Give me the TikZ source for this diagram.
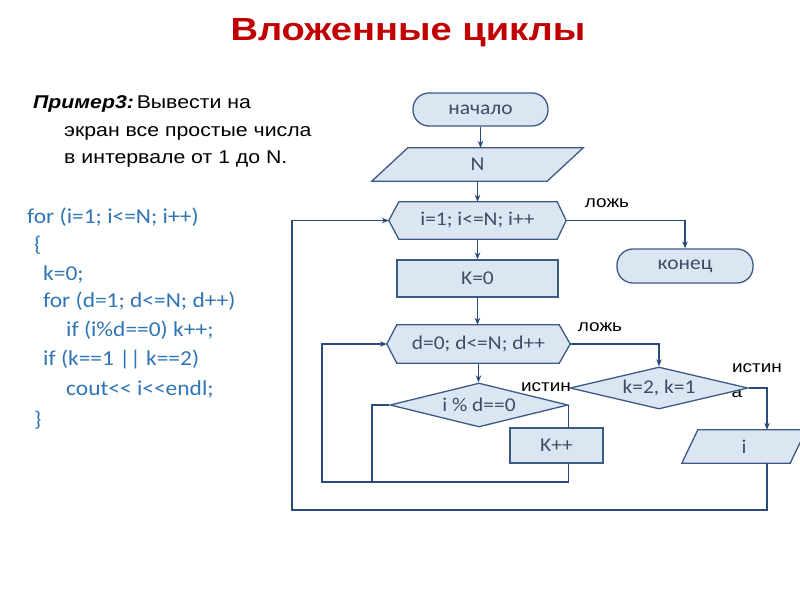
\documentclass[tikz,border=0pt]{standalone}
\usepackage{fontspec}
\setmainfont{Liberation Sans}
\newfontfamily\titlefont[FakeStretch=1.19]{Liberation Sans}
\newfontfamily\armfont[FakeStretch=1.15]{Liberation Sans}
\newfontfamily\codefont[FakeStretch=1.1]{Carlito}
\newfontfamily\shpfont[FakeStretch=1.1]{Carlito}
\usetikzlibrary{arrows.meta,calc,shapes.geometric,backgrounds}
\definecolor{titlered}{HTML}{C00000}
\definecolor{codeblue}{HTML}{2F75B5}
\definecolor{shpfill}{HTML}{DCE6F2}
\definecolor{shpdraw}{HTML}{3B5A85}
\definecolor{linecol}{HTML}{2A4A7A}
\definecolor{shptext}{HTML}{3E4C66}
\tikzset{
  titletext/.style={text=titlered,font=\titlefont\bfseries\fontsize{32}{38}\selectfont,inner sep=0},
  armtext/.style={text=black,font=\armfont\fontsize{18.5}{22}\selectfont,inner sep=0,anchor=base west},
  codetext/.style={text=codeblue,font=\codefont\fontsize{21.3}{25}\selectfont,inner sep=0,anchor=west},
  lbl/.style={text=black,font=\armfont\fontsize{16.5}{20}\selectfont,inner sep=0},
  txt/.style={text=shptext,font=\shpfont\fontsize{19.5}{23}\selectfont,inner sep=0},
  shp/.style={draw=shpdraw,fill=shpfill,line width=1.3pt},
  boxnode/.style={txt,shp,rectangle},
  termnode/.style={txt,shp,rectangle,rounded corners=16pt},
  diamnode/.style={txt,shp,diamond,aspect=4.5},
  ln/.style={draw=linecol,line width=1.2pt},
  arr/.style={ln,-{Stealth[length=7pt,width=5.5pt]}},
}
\begin{document}
\begin{tikzpicture}[x=1pt,y=-1pt]
\useasboundingbox (0,0) rectangle (800,600);
\clip (0,0) rectangle (800,600);
% title
\node[titletext] (title) at (408,33) {Вложенные циклы};
% task text
\node[armtext] (t1) at (33,108) {{\bfseries\itshape Пример3:}\hspace{0.15em}Вывести на};
\node[armtext] (t2) at (64,136) {экран все простые числа};
\node[armtext] (t3) at (64,163) {в интервале от 1 до N.};
% code
\node[codetext] (c1) at (27,217) {for (i=1; i<=N; i++)};
\node[codetext] (c2) at (34,245) {\{};
\node[codetext] (c3) at (43,274) {k=0;};
\node[codetext] (c4) at (43,301) {for (d=1; d<=N; d++)};
\node[codetext] (c5) at (66,330) {if (i\%d==0) k++;};
\node[codetext] (c6) at (43,359) {if (k==1 || k==2)};
\node[codetext] (c7) at (66,389) {cout<{}< i<{}<endl;};
\node[codetext] (c8) at (34,420) {\}};
% flowchart nodes
\node[termnode,minimum width=135,minimum height=33] (start) at (480.5,109.5) {начало};
\node[txt,minimum width=175,minimum height=33] (N) at (477.5,164.5) {N};
\node[txt,minimum width=177,minimum height=37] (h1) at (477.5,220.5) {i=1; i<=N; i++};
\node[termnode,minimum width=136,minimum height=34] (konec) at (685,266) {конец};
\node[boxnode,minimum width=161,minimum height=37] (K0) at (477.5,278.5) {K=0};
\node[txt,minimum width=183,minimum height=38] (h2) at (478.5,344) {d=0; d<=N; d++};
\node[diamnode,minimum width=178,minimum height=44] (dd) at (479,405) {i \% d==0};
\node[boxnode,minimum width=93,minimum height=35] (Kpp) at (556.5,445.5) {K++};
\node[lbl] (la) at (737,393) {а};
\node[diamnode,minimum width=178,minimum height=42] (kd) at (659,388) {k=2, k=1};
\node[txt,minimum width=108,minimum height=33] (io) at (744,446.5) {i};
\begin{pgfonlayer}{background}
\path[shp] ([xshift=18]N.north west) -- ([xshift=18]N.north east) -- ([xshift=-18]N.south east) -- ([xshift=-18]N.south west) -- cycle;
\path[shp] (h1.west) -- ([xshift=10]h1.north west) -- ([xshift=-9]h1.north east) -- (h1.east) -- ([xshift=-9]h1.south east) -- ([xshift=10]h1.south west) -- cycle;
\path[shp] (h2.west) -- ([xshift=10]h2.north west) -- ([xshift=-11]h2.north east) -- (h2.east) -- ([xshift=-11]h2.south east) -- ([xshift=10]h2.south west) -- cycle;
\path[shp] ([xshift=8]io.north west) -- ([xshift=8]io.north east) -- ([xshift=-8]io.south east) -- ([xshift=-8]io.south west) -- cycle;
\end{pgfonlayer}
% labels
\node[lbl] (l1) at (607,203) {ложь};
\node[lbl] (l2) at (600,327) {ложь};
\node[lbl] (l3) at (546,387) {истин};
\node[lbl] (l4) at (757,368) {истин};
% helper coordinates
\coordinate (ix) at (767,446);
\coordinate (ob) at (292,510);
\coordinate (ib) at (322,482);
\coordinate (dl) at (372,482);
% connectors
\draw[arr] (start.south) -- (start.south |- N.north);
\draw[arr] (N.south) -- (N.south |- h1.north);
\draw[arr] (h1.east) -| (konec.north);
\draw[arr] (h1.south) -- (K0.north);
\draw[arr] (K0.south) -- (K0.south |- h2.north);
\draw[arr] (h2.east) -| (kd.north);
\draw[arr] (h2.south) -- (h2.south |- dd.north);
\draw[ln] (dd.east) -- (dd.east |- Kpp.north);
\draw[ln] (dd.west) -| (dl);
\draw[arr] (dd.east |- Kpp.south) -- (dd.east |- ib) -- (ib) |- (h2.west);
\draw[arr] (kd.east) -| (ix |- io.north);
\draw[arr] (ix |- io.south) -- (ix |- ob) -- (ob) |- (h1.west);
\end{tikzpicture}
\end{document}
